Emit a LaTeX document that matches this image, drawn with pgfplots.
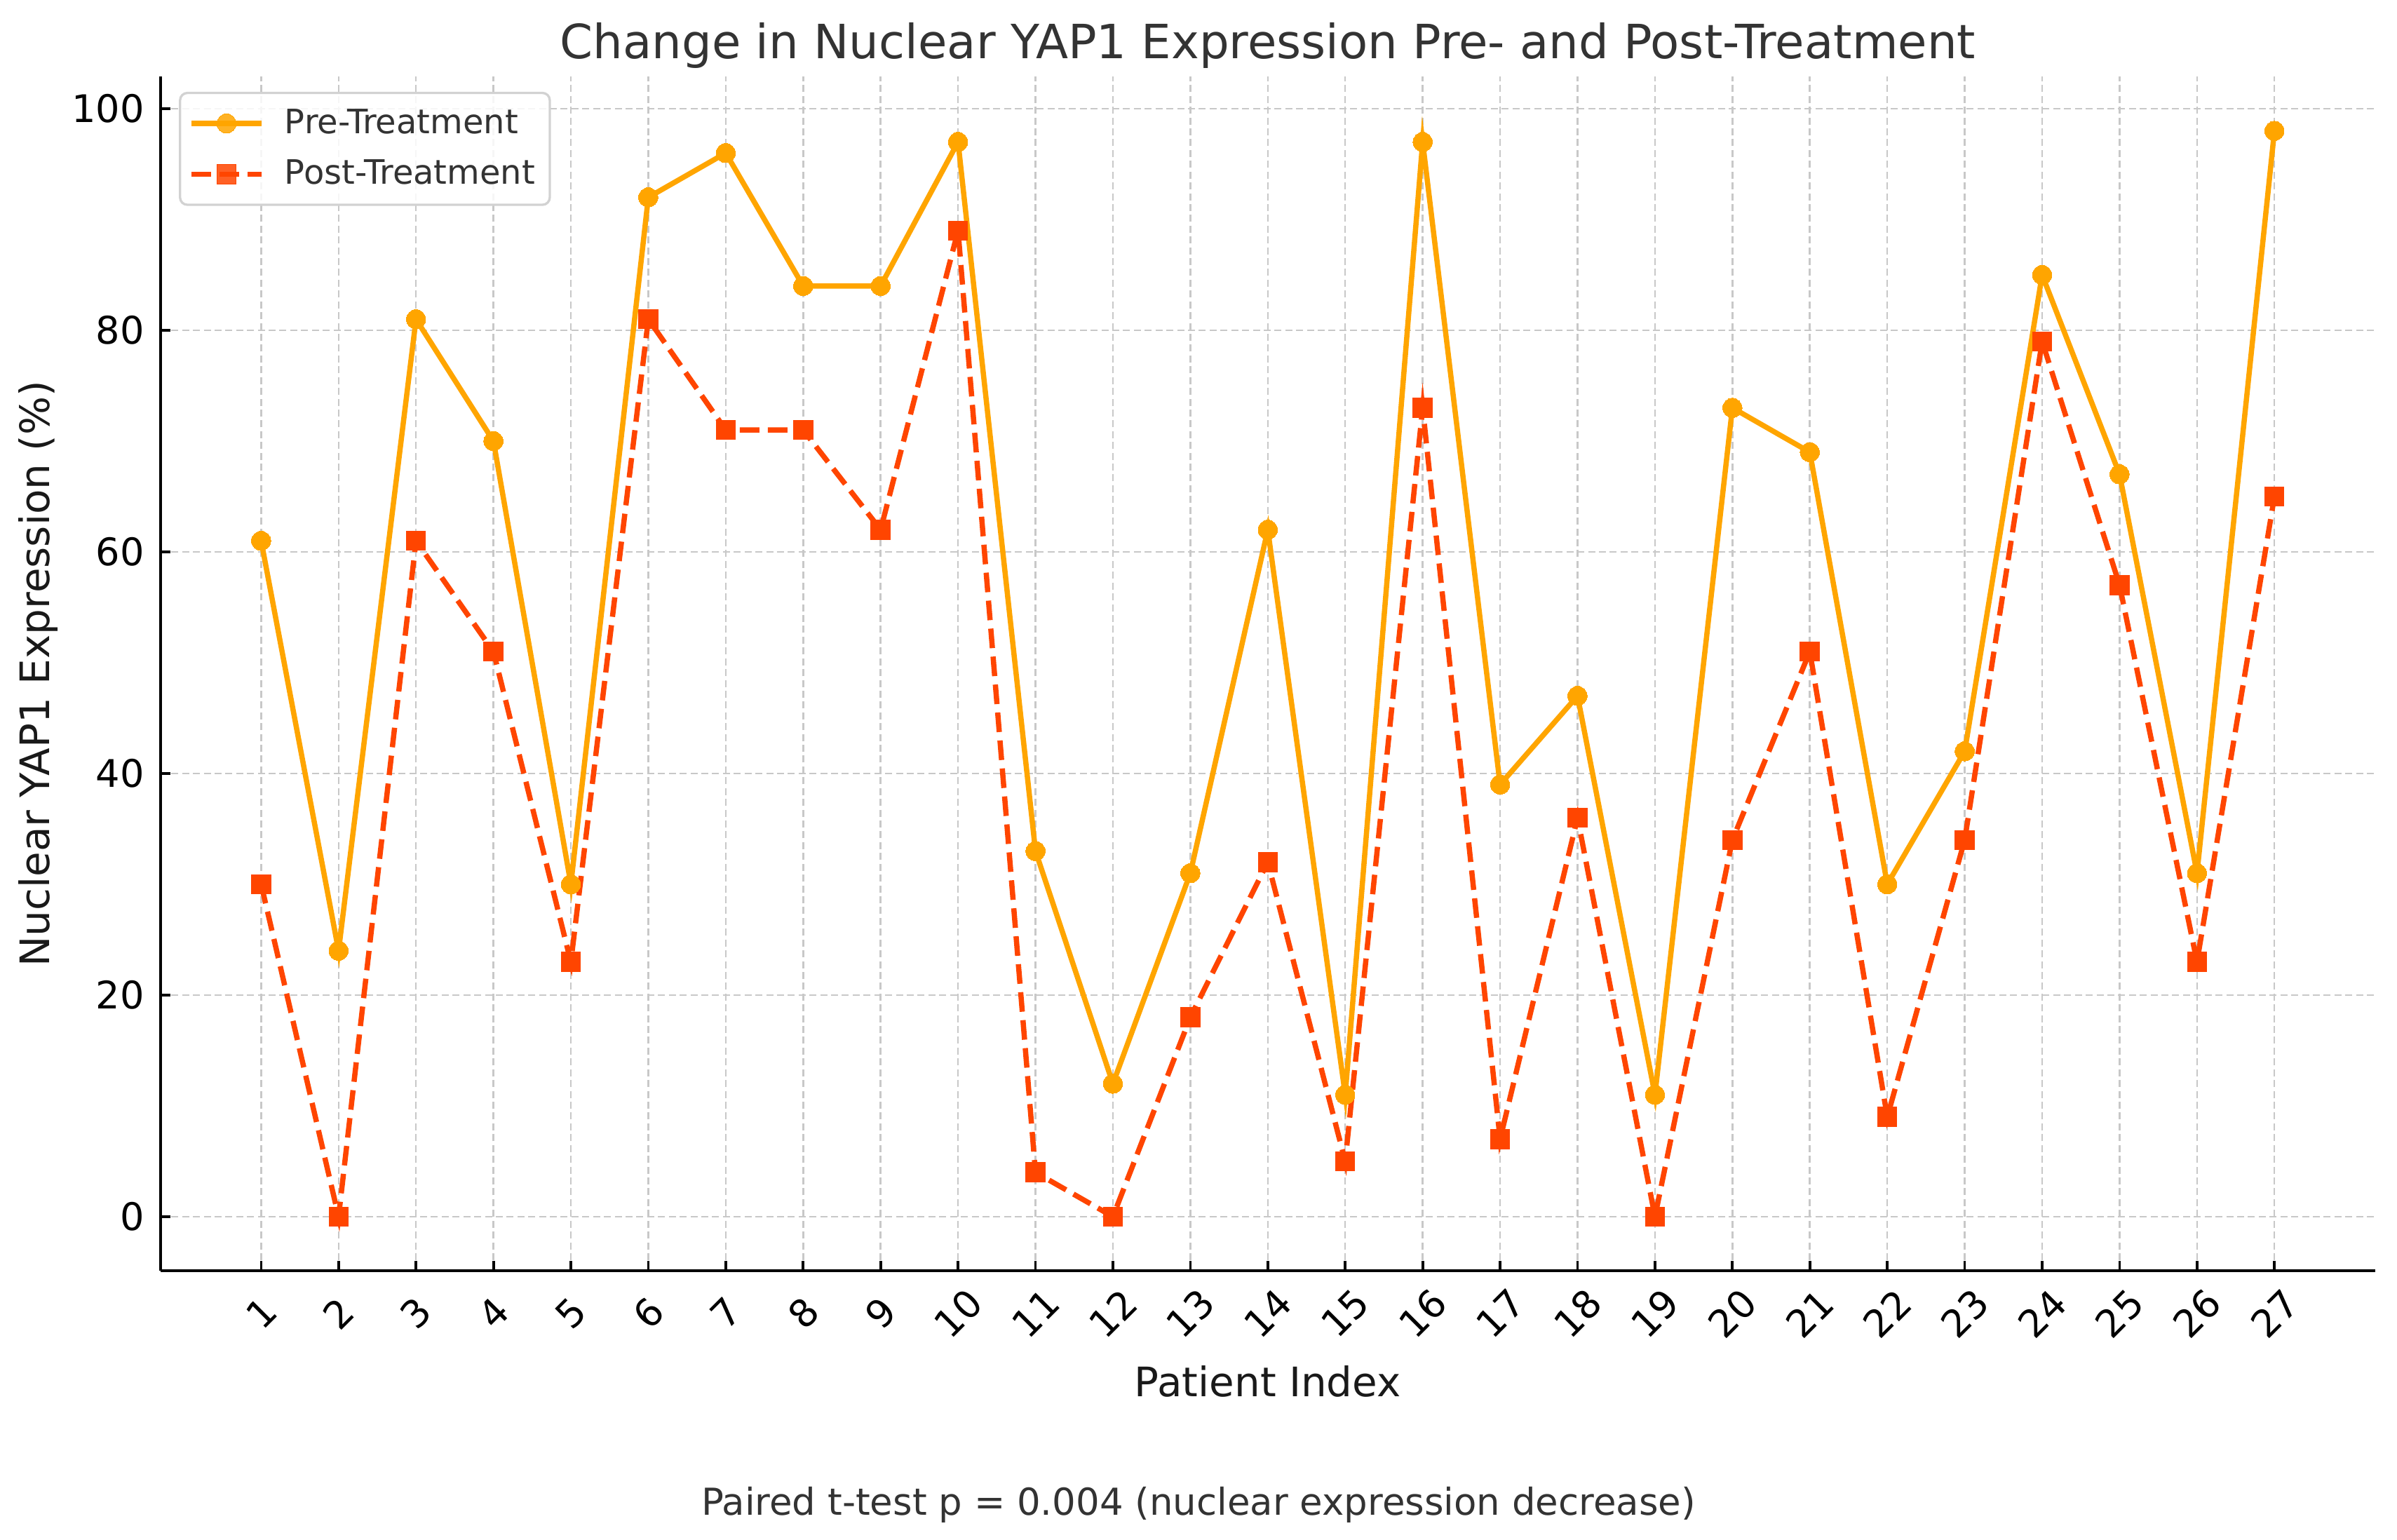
\documentclass[border=0pt]{standalone}
\usepackage{pgfplots}
\pgfplotsset{compat=1.18}
\usepackage{fontspec}
\setmainfont{DejaVu Sans}
\definecolor{preC}{HTML}{FFA500}
\definecolor{postC}{HTML}{FF4500}
\definecolor{gridC}{HTML}{C8C8C8}
\definecolor{txt}{HTML}{333333}
\pgfplotstableread{
x pre post
1 61 30
2 24 0
3 81 61
4 70 51
5 30 23
6 92 81
7 96 71
8 84 71
9 84 62
10 97 89
11 33 4
12 12 0
13 31 18
14 62 32
15 11 5
16 97 73
17 39 7
18 47 36
19 11 0
20 73 34
21 69 51
22 30 9
23 42 34
24 85 79
25 67 57
26 31 23
27 98 65
}\datatable
\begin{document}
\begin{tikzpicture}
\useasboundingbox (0,0) rectangle (820pt,526.8pt);
\begin{axis}[
  at={(54.9pt,92pt)}, anchor=south west,
  scale only axis, width=757.6pt, height=408.6pt,
  xmin=-0.3, xmax=28.3, ymin=-4.9, ymax=102.9,
  axis lines*=left,
  axis line style={line width=1pt, black},
  xtick={1,...,27},
  ytick={0,20,40,60,80,100},
  tick align=inside,
  major tick length=3.5pt,
  tick style={line width=0.9pt, black},
  grid=major,
  grid style={gridC, line width=0.6pt, dash pattern=on 2.4pt off 1.3pt},
  ticklabel style={font=\fontsize{13}{15}\selectfont, text=black},
  /pgf/number format/assume math mode=true,
  xticklabel style={yshift=-14.5pt, rotate=45, anchor=center},
  yticklabel style={xshift=-2pt},
  xlabel={Patient Index},
  ylabel={Nuclear YAP1 Expression (\%)},
  label style={font=\fontsize{13.9}{16}\selectfont, text=black!90},
  xlabel style={at={(axis description cs:0.5,0)}, anchor=center, yshift=-37.7pt},
  ylabel style={at={(axis description cs:0,0.5)}, anchor=center, yshift=41.9pt},
  legend style={at={(axis description cs:0,1)}, anchor=north west, xshift=6.3pt, yshift=-5.2pt,
    draw=gray!35, line width=0.8pt, rounded corners=2.5pt, fill=white, fill opacity=0.85, text opacity=1,
    font=\fontsize{11.5}{14}\selectfont, text=txt, inner xsep=3pt, inner ysep=3.5pt, row sep=3.5pt},
  legend cell align=left,
  legend image code/.code={\draw[mark repeat=2,mark phase=2] plot coordinates {(0pt,0pt) (12pt,0pt) (24pt,0pt)};},
  clip=false,
]
\addplot[preC, line width=1.8pt, mark=*, mark size=3.3pt, mark options={solid, fill=preC, draw=preC, line width=0pt}] table[x=x, y=pre] {\datatable};
\addlegendentry{\hspace{5pt}Pre-Treatment}
\addplot[postC, line width=1.8pt, dash pattern=on 6.7pt off 2.9pt, mark=square*, mark size=3.3pt, mark options={solid, fill=postC, draw=postC, line width=0pt}] table[x=x, y=post] {\datatable};
\addlegendentry{\hspace{5pt}Post-Treatment}
\end{axis}
\node[font=\fontsize{16.15}{19}\selectfont, text=txt] at (433.7pt,511.2pt) {Change in Nuclear YAP1 Expression Pre- and Post-Treatment};
\node[font=\fontsize{12.7}{15}\selectfont, text=txt] at (410pt,12pt) {Paired t-test p = 0.004 (nuclear expression decrease)};
\end{tikzpicture}
\end{document}
